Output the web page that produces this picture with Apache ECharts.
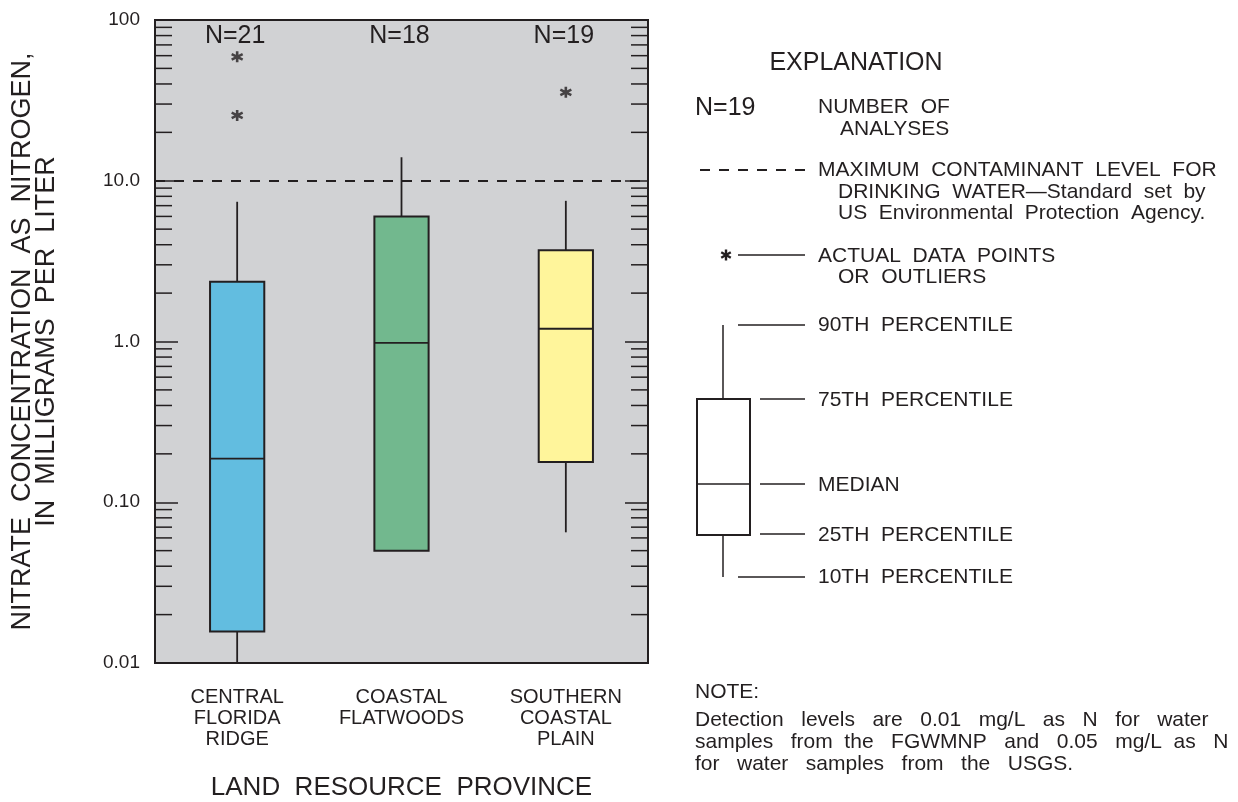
<!DOCTYPE html>
<html>
<head>
<meta charset="utf-8">
<title>Nitrate concentration by land resource province</title>
<script src="https://cdn.jsdelivr.net/npm/echarts@6/dist/echarts.min.js"></script>
<style>
  html, body { margin: 0; padding: 0; background: #ffffff; }
  #chart { width: 1238px; height: 802px; }
</style>
</head>
<body>
<div id="chart"></div>
<script>
// Land resource provinces (x-axis categories)
const provinces = ['CENTRAL\nFLORIDA\nRIDGE', 'COASTAL\nFLATWOODS', 'SOUTHERN\nCOASTAL\nPLAIN'];
// Number of analyses per province
const sampleCounts = [21, 18, 19];
// Percentiles of nitrate as nitrogen, mg/L
const p10 = [0.01, 0.05, 0.065];
const p25 = [0.0157, 0.05, 0.178];
const p50 = [0.187, 0.98, 1.2];
const p75 = [2.35, 6.0, 3.7];
const p90 = [7.4, 14.0, 7.5];
// Individual high values plotted beyond the 90th percentile: [province index, value]
const outliers = [[0, 59], [0, 25.5], [2, 35.5]];
// Maximum contaminant level for drinking water, mg/L
const mclLevel = 10;
// Fill colour of each province's box
const boxColors = ['#62bde0', '#72b88e', '#fff59b'];
// Decade tick values and their printed labels
const majorTicks = [0.01, 0.1, 1, 10, 100];
const majorTickLabels = ['0.01', '0.10', '1.0', '10.0', '100'];
// Intermediate (2..9) tick multipliers within each decade
const minorMultipliers = [2, 3, 4, 5, 6, 7, 8, 9];

const INK = '#231f20';
const FONT = '"Liberation Sans", Arial, Helvetica, sans-serif';

const boxData = provinces.map((_, i) => [i, p10[i], p25[i], p50[i], p75[i], p90[i], sampleCounts[i]]);

const minorTickData = [];
majorTicks.slice(0, -1).forEach(d => minorMultipliers.forEach(m => minorTickData.push([0, d * m])));

function tickLabel(v) {
  const lv = Math.log10(v);
  for (let i = 0; i < majorTicks.length; i++) {
    if (Math.abs(Math.log10(majorTicks[i]) - lv) < 1e-6) return majorTickLabels[i];
  }
  return '';
}

function renderBox(params, api) {
  const i = api.value(0);
  const cs = params.coordSys;
  const half = api.size([1, 0])[0] * 0.165;
  const cx = api.coord([i, api.value(3)])[0];
  const yLo = api.coord([i, api.value(1)])[1];
  const yQ1 = api.coord([i, api.value(2)])[1];
  const yMed = api.coord([i, api.value(3)])[1];
  const yQ3 = api.coord([i, api.value(4)])[1];
  const yHi = api.coord([i, api.value(5)])[1];
  const line = { stroke: INK, lineWidth: 1.8 };
  const children = [];
  if (yHi < yQ3) children.push({ type: 'line', shape: { x1: cx, y1: yQ3, x2: cx, y2: yHi }, style: line });
  if (yLo > yQ1) children.push({ type: 'line', shape: { x1: cx, y1: yQ1, x2: cx, y2: yLo }, style: line });
  children.push({
    type: 'rect',
    shape: { x: cx - half, y: yQ3, width: half * 2, height: yQ1 - yQ3 },
    style: { fill: boxColors[params.dataIndex], stroke: INK, lineWidth: 2 }
  });
  children.push({ type: 'line', shape: { x1: cx - half, y1: yMed, x2: cx + half, y2: yMed }, style: line });
  children.push({
    type: 'text',
    style: {
      text: 'N=' + api.value(6), x: cx - 2, y: cs.y + 16,
      align: 'center', verticalAlign: 'middle',
      font: '25px ' + FONT, fill: INK
    }
  });
  return { type: 'group', children };
}

function renderMinorTick(params, api) {
  const cs = params.coordSys;
  const y = api.coord([0, api.value(1)])[1];
  const st = { stroke: INK, lineWidth: 1.5 };
  return {
    type: 'group',
    children: [
      { type: 'line', shape: { x1: cs.x, y1: y, x2: cs.x + 17, y2: y }, style: st },
      { type: 'line', shape: { x1: cs.x + cs.width - 17, y1: y, x2: cs.x + cs.width, y2: y }, style: st }
    ]
  };
}

const asteriskPath = 'path://M5,0L5,10M0.67,2.5L9.33,7.5M0.67,7.5L9.33,2.5';

function legendText(text, x, y, size, align) {
  return {
    type: 'text',
    style: { text, x, y, font: (size || 20) + 'px ' + FONT, fill: INK, align: align || 'left', verticalAlign: 'middle' }
  };
}
function legendLine(x1, y1, x2, y2, dash, width) {
  return {
    type: 'line',
    shape: { x1, y1, x2, y2 },
    style: { stroke: INK, lineWidth: width || (dash ? 2 : 1.5), lineDash: dash || null }
  };
}
// Six-armed asterisk built from three strokes
function legendAsterisk(cx, cy, r) {
  const dx = r * 0.866, dy = r * 0.5;
  return {
    type: 'group',
    children: [
      legendLine(cx, cy - r, cx, cy + r, null, 2.4),
      legendLine(cx - dx, cy - dy, cx + dx, cy + dy, null, 2.4),
      legendLine(cx - dx, cy + dy, cx + dx, cy - dy, null, 2.4)
    ]
  };
}

const chart = echarts.init(document.getElementById('chart'), null, { renderer: 'canvas' });

chart.setOption({
  animation: false,
  backgroundColor: '#ffffff',
  textStyle: { fontFamily: FONT, color: INK },
  grid: {
    left: 155, top: 20, width: 493, height: 643,
    outerBoundsMode: 'none',
    containLabel: false,
    show: true, backgroundColor: '#d1d2d4', borderColor: INK, borderWidth: 2
  },
  xAxis: {
    type: 'category',
    data: provinces,
    boundaryGap: true,
    axisLine: { show: true, lineStyle: { color: INK, width: 2 } },
    axisTick: { show: false },
    axisLabel: { fontSize: 20, lineHeight: 21, color: INK, margin: 24, fontFamily: FONT },
    splitLine: { show: false },
    name: 'LAND  RESOURCE  PROVINCE',
    nameLocation: 'middle',
    nameGap: 112,
    nameTextStyle: { fontSize: 26, color: INK, fontFamily: FONT }
  },
  yAxis: [
    {
      type: 'log', logBase: 10, min: 0.01, max: 100, interval: 1,
      position: 'left',
      axisLine: { show: true, lineStyle: { color: INK, width: 2 } },
      axisTick: { show: true, inside: true, length: 23, lineStyle: { color: INK, width: 1.5 } },
      axisLabel: { formatter: tickLabel, fontSize: 19, color: INK, margin: 15, fontFamily: FONT },
      splitLine: { show: false },
      name: 'NITRATE  CONCENTRATION  AS  NITROGEN,\nIN  MILLIGRAMS  PER  LITER',
      nameLocation: 'middle',
      nameGap: 96,
      nameTextStyle: { fontSize: 27, lineHeight: 24, color: INK, fontFamily: FONT }
    },
    {
      type: 'log', logBase: 10, min: 0.01, max: 100, interval: 1,
      position: 'right',
      axisLine: { show: true, lineStyle: { color: INK, width: 2 } },
      axisTick: { show: true, inside: true, length: 23, lineStyle: { color: INK, width: 1.5 } },
      axisLabel: { show: false },
      splitLine: { show: false }
    }
  ],
  series: [
    {
      type: 'custom',
      name: 'minor ticks',
      silent: true,
      renderItem: renderMinorTick,
      encode: { x: 0, y: 1 },
      data: minorTickData,
      z: 1
    },
    {
      type: 'custom',
      name: 'percentiles',
      renderItem: renderBox,
      encode: { x: 0, y: [1, 2, 3, 4, 5] },
      data: boxData,
      z: 3
    },
    {
      type: 'scatter',
      name: 'outliers',
      data: outliers,
      symbol: asteriskPath,
      symbolSize: 11,
      itemStyle: { color: INK, borderColor: INK, borderWidth: 2.6 },
      z: 4,
      markLine: {
        silent: true,
        symbol: ['none', 'none'],
        label: { show: false },
        lineStyle: { color: INK, width: 2, type: [10, 9] },
        data: [{ yAxis: mclLevel }],
        z: 2
      }
    }
  ],
  graphic: [
    legendText('EXPLANATION', 856, 63, 25, 'center'),
    legendText('N=19', 695, 108, 25),
    legendText('NUMBER  OF', 818, 107, 21),
    legendText('ANALYSES', 840, 129, 21),

    legendLine(700, 170, 805, 170, [10, 9]),
    legendText('MAXIMUM  CONTAMINANT  LEVEL  FOR', 818, 170, 21),
    legendText('DRINKING  WATER\u2014Standard  set  by', 838, 192, 21),
    legendText('US  Environmental  Protection  Agency.', 838, 213, 21),

    legendAsterisk(726, 255, 5.5),
    legendLine(738, 255, 805, 255),
    legendText('ACTUAL  DATA  POINTS', 818, 256, 21),
    legendText('OR  OUTLIERS', 838, 277, 21),

    legendLine(723, 325, 723, 399),
    legendLine(723, 535, 723, 577),
    {
      type: 'rect',
      shape: { x: 697, y: 399, width: 53, height: 136 },
      style: { fill: '#ffffff', stroke: INK, lineWidth: 2 }
    },
    legendLine(697, 484, 750, 484),
    legendLine(738, 325, 805, 325),
    legendLine(760, 399, 805, 399),
    legendLine(760, 484, 805, 484),
    legendLine(760, 534, 805, 534),
    legendLine(738, 577, 805, 577),
    legendText('90TH  PERCENTILE', 818, 325, 21),
    legendText('75TH  PERCENTILE', 818, 400, 21),
    legendText('MEDIAN', 818, 485, 21),
    legendText('25TH  PERCENTILE', 818, 535, 21),
    legendText('10TH  PERCENTILE', 818, 577, 21),

    legendText('NOTE:', 695, 692, 21),
    legendText('Detection   levels   are   0.01   mg/L   as   N   for   water', 695, 720, 21),
    legendText('samples   from  the   FGWMNP   and   0.05   mg/L  as   N', 695, 742, 21),
    legendText('for   water   samples   from   the   USGS.', 695, 764, 21)
  ]
});
</script>
</body>
</html>
